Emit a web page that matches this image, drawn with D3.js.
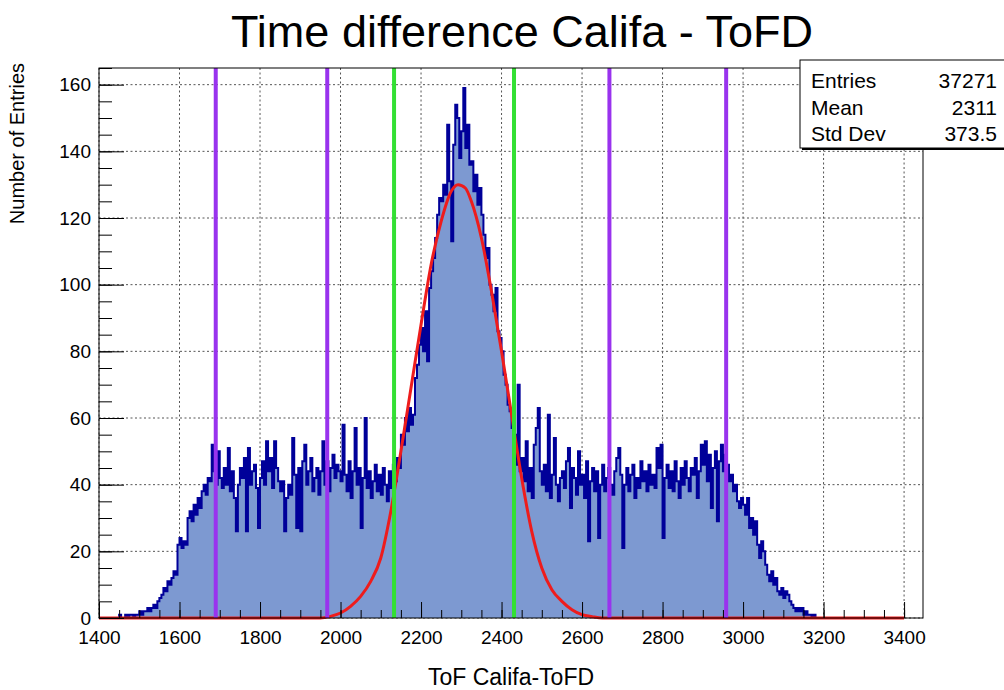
<!DOCTYPE html>
<html>
<head>
<meta charset="utf-8">
<script src="https://d3js.org/d3.v7.min.js"></script>
<style>
  body { margin: 0; background: #fff; }
  text { font-family: "Liberation Sans", Arial, sans-serif; }
</style>
</head>
<body>
<div id="chart"></div>
<script>
// histogram: first bin edge, bin width, contents
const binStart = 1450, binWidth = 5;
const counts = [
  1,0,0,1,0,1,1,0,1,1,        // 1450
  2,1,2,2,3,2,3,4,3,5,        // 1500
  6,7,9,8,11,10,12,14,13,22,  // 1550
  24,21,23,22,30,32,29,34,31,36,
  33,38,40,37,42,41,52,44,40,50,
  42,39,45,40,51,38,44,36,26,40, // 1700
  45,42,48,26,51,40,44,46,39,27,
  42,47,40,53,44,48,39,53,45,41,
  38,41,26,36,40,37,54,43,27,45,
  26,47,52,40,44,48,38,42,45,37,
  44,53,40,47,38,45,49,42,46,44, // 1950
  41,58,43,38,47,36,44,57,40,45,
  27,42,60,39,44,36,41,46,38,43,
  37,45,40,35,44,39,46,41,48,45,
  55,52,60,56,63,58,61,72,76,82, // 2150
  87,80,92,77,99,104,108,114,121,126,
  125,130,127,148,131,113,142,154,150,138,
  146,159,141,148,136,137,128,133,124,129,
  121,115,108,111,100,97,92,99,86,84,
  80,73,70,64,62,57,55,46,70,44, // 2400
  48,41,53,38,45,36,52,57,63,44,
  40,46,38,61,36,43,54,40,35,42,
  44,39,47,51,33,45,42,37,50,40,
  43,36,47,23,41,45,38,44,24,40,
  46,38,42,45,40,37,44,48,51,43, // 2650
  21,40,45,38,43,46,36,42,39,47,
  41,44,38,46,40,43,39,51,45,52,
  24,42,46,39,44,38,47,41,36,45,
  40,47,42,38,45,43,48,36,44,52,
  46,53,41,49,33,45,50,29,47,52, // 2900
  44,49,46,41,43,38,40,35,33,36,
  34,31,36,27,30,25,29,22,18,23,
  20,16,13,11,14,10,12,8,7,9,
  6,8,7,5,4,3,2,3,2,3,
  1,2,1,1,0,1,0,0,0,0           // 3150
];

// fitted curve, points
const fitX = [1400,1950,1975,2000,2025,2050,2075,2100,2125,2150,2175,2200,2225,2250,2275,2292,
              2310,2325,2350,2375,2400,2425,2450,2475,2500,2525,2550,2575,2600,2625,2650,3400];
const fitY = [0,0,0.5,1.5,3.5,6.5,11,18,32,50,69,88,106,119,128,130,
              129,125,114,98,80,61,42,26,15,8.5,5,2.5,1,0.4,0,0];

const cutsViolet = [1690, 1967, 2668, 2958];
const cutsGreen = [2133, 2431];

const xTicks = d3.range(1400, 3401, 200);
const xMinor = d3.range(1400, 3446, 50);
const yTicks = d3.range(0, 161, 20);
const yMinor = d3.range(0, 166, 5);

const statNames = ["Entries", "Mean", "Std Dev"];
const statValues = ["37271", "2311", "373.5"];

const W = 1004, H = 690;
const margin = {top: 68, right: 81, bottom: 72, left: 99},
  width = W - margin.left - margin.right,
  height = H - margin.top - margin.bottom;

const root = d3.select("#chart").append("svg")
  .attr("width", W).attr("height", H);

const svg = root.append("g")
  .attr("transform", `translate(${margin.left},${margin.top})`);

const x = d3.scaleLinear().domain([1400, 3447]).range([0, width]);
const y = d3.scaleLinear().domain([0, 165]).range([height, 0]);

// grid
svg.append("g").selectAll("line").data(xTicks).join("line")
  .attr("x1", d => x(d)).attr("x2", d => x(d))
  .attr("y1", 0).attr("y2", height)
  .attr("stroke", "#555").attr("stroke-dasharray", "2,2.5");
svg.append("g").selectAll("line").data(yTicks).join("line")
  .attr("x1", 0).attr("x2", width)
  .attr("y1", d => y(d)).attr("y2", d => y(d))
  .attr("stroke", "#555").attr("stroke-dasharray", "2,2.5");

// histogram as a step outline
const pts = [[binStart, 0]];
counts.forEach((c, i) => {
  const e = binStart + i * binWidth;
  pts.push([e, c], [e + binWidth, c]);
});
pts.push([binStart + counts.length * binWidth, 0]);

const step = d3.line().x(d => x(d[0])).y(d => y(d[1]));
svg.append("path").attr("d", step(pts) + "Z")
  .attr("fill", "#7d99d1").attr("stroke", "none");
svg.append("path").attr("d", step(pts))
  .attr("fill", "none").attr("stroke", "#000099").attr("stroke-width", 2);

// fit
const fitLine = d3.line().x((d, i) => x(fitX[i])).y(d => y(d)).curve(d3.curveMonotoneX);
svg.append("path").attr("d", fitLine(fitY))
  .attr("fill", "none").attr("stroke", "#ee1c1c").attr("stroke-width", 3);

// cut lines
svg.selectAll(".violet").data(cutsViolet).join("line")
  .attr("x1", d => x(d)).attr("x2", d => x(d)).attr("y1", 0).attr("y2", height)
  .attr("stroke", "#9933ee").attr("stroke-width", 4);
svg.selectAll(".green").data(cutsGreen).join("line")
  .attr("x1", d => x(d)).attr("x2", d => x(d)).attr("y1", 0).attr("y2", height)
  .attr("stroke", "#33e033").attr("stroke-width", 4);

// axes
svg.append("g").attr("transform", `translate(0,${height})`)
  .call(d3.axisBottom(x).tickValues(xTicks).tickSize(-16).tickPadding(13).tickFormat(d3.format("d")));
svg.append("g").attr("transform", `translate(0,${height})`)
  .call(d3.axisBottom(x).tickValues(xMinor).tickSize(-8).tickFormat(""));
svg.append("g")
  .call(d3.axisLeft(y).tickValues(yTicks).tickSize(-25).tickPadding(8).tickFormat(d3.format("d")));
svg.append("g")
  .call(d3.axisLeft(y).tickValues(yMinor).tickSize(-13).tickFormat(""));
svg.selectAll(".domain").remove();
svg.selectAll(".tick line").attr("stroke", "#000");
svg.selectAll(".tick text").attr("font-size", 19).attr("fill", "#000")
  .style("font-family", '"Liberation Sans", Arial, sans-serif');

// frame
svg.append("rect").attr("width", width).attr("height", height)
  .attr("fill", "none").attr("stroke", "#000").attr("stroke-width", 1);

// stats box
root.append("rect").attr("x", 800).attr("y", 60).attr("width", 210).attr("height", 88)
  .attr("fill", "#fff").attr("stroke", "#000").attr("stroke-width", 1);
root.append("line").attr("x1", 802).attr("x2", 1004).attr("y1", 149).attr("y2", 149)
  .attr("stroke", "#000").attr("stroke-width", 2);
statNames.forEach((s, i) => {
  root.append("text").attr("x", 811).attr("y", 88 + i * 26.7)
    .attr("font-size", 21).text(s);
  root.append("text").attr("x", 997).attr("y", 88 + i * 26.7)
    .attr("font-size", 21).attr("text-anchor", "end").text(statValues[i]);
});

// titles
root.append("text").attr("x", 522).attr("y", 47)
  .attr("text-anchor", "middle").attr("font-size", 45)
  .text("Time difference Califa - ToFD");
root.append("text").attr("x", margin.left + width / 2).attr("y", 685)
  .attr("text-anchor", "middle").attr("font-size", 23)
  .text("ToF Califa-ToFD");
root.append("text")
  .attr("transform", `translate(24,${margin.top - 5}) rotate(-90)`)
  .attr("text-anchor", "end").attr("font-size", 20)
  .text("Number of Entries");
</script>
</body>
</html>
